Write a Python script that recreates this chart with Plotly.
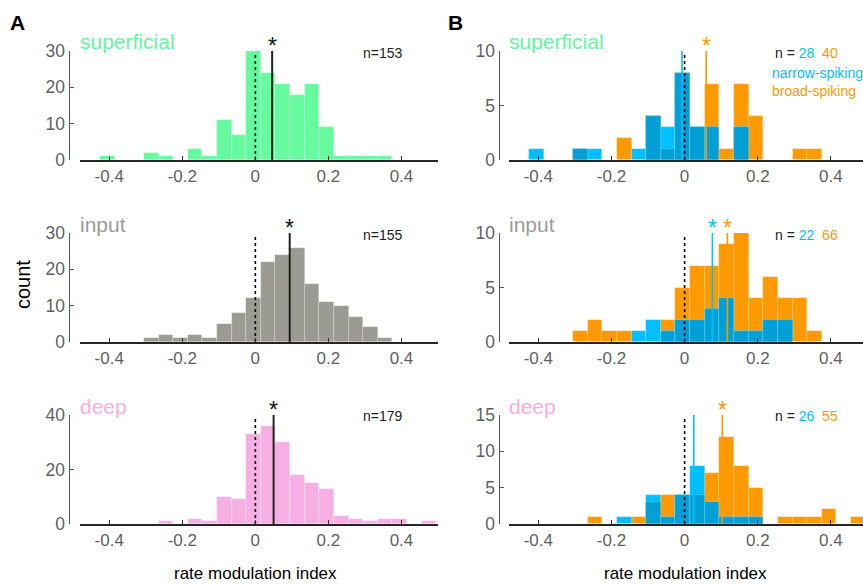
import plotly.graph_objects as go

W, H = 863, 584

bin_centers = [-0.405, -0.365, -0.325, -0.285, -0.245, -0.205, -0.165, -0.125, -0.085, -0.045,
               -0.005, 0.035, 0.075, 0.115, 0.155, 0.195, 0.235, 0.275, 0.315, 0.355,
               0.395, 0.435, 0.475]
bin_width = 0.04

# Panel A counts
A_superficial = [1, 0, 0, 2, 1, 0, 3, 1, 11, 7, 30, 24, 21, 18, 21, 9, 1, 1, 1, 1, 0, 0, 0]
A_input = [0, 0, 0, 1, 2, 1, 2, 1, 5, 8, 12, 22, 24, 26, 16, 11, 10, 7, 4, 1, 0, 0, 0]
A_deep = [0, 0, 0, 0, 1, 0, 2, 1, 10, 9, 33, 36, 30, 18, 15, 13, 3, 2, 1, 2, 2, 0, 1]

# Panel B counts (narrow-spiking / broad-spiking)
B_sup_narrow = [1, 0, 0, 1, 1, 0, 0, 1, 4, 3, 8, 3, 3, 0, 3, 0, 0, 0, 0, 0, 0, 0, 0]
B_sup_broad = [0, 0, 0, 1, 0, 0, 2, 0, 4, 1, 8, 3, 7, 1, 7, 4, 0, 0, 1, 1, 0, 0, 0]
B_inp_narrow = [0, 0, 0, 0, 0, 0, 0, 1, 2, 1, 2, 2, 3, 4, 1, 1, 2, 2, 0, 0, 0, 0, 0]
B_inp_broad = [0, 0, 0, 1, 2, 1, 1, 0, 0, 2, 5, 7, 7, 9, 10, 4, 6, 4, 4, 1, 0, 0, 0]
B_deep_narrow = [0, 0, 0, 0, 0, 0, 1, 0, 4, 1, 4, 8, 3, 1, 1, 1, 0, 0, 0, 0, 0, 0, 0]
B_deep_broad = [0, 0, 0, 0, 1, 0, 0, 1, 3, 4, 4, 4, 7, 12, 8, 5, 0, 1, 1, 1, 2, 0, 1]

# means
A_means = [0.046, 0.094, 0.050]
B_means_narrow = [-0.007, 0.076, 0.025]
B_means_broad = [0.059, 0.117, 0.103]
B_star_narrow = [False, True, False]
B_star_broad = [True, True, True]

layer_names = ["superficial", "input", "deep"]
layer_colors = ["#66FA9F", "#9B9B93", "#F5AFE3"]
layer_text_colors = ["#66F59E", "#9B9B9B", "#F7AEE2"]
A_n = [153, 155, 179]
B_n_narrow = [28, 22, 26]
B_n_broad = [40, 66, 55]

A_yticks = [[0, 10, 20, 30], [0, 10, 20, 30], [0, 20, 40]]
B_yticks = [[0, 5, 10], [0, 5, 10], [0, 5, 10, 15]]
x_ticks = [-0.4, -0.2, 0, 0.2, 0.4]
x_ticklabels = ["-0.4", "-0.2", "0", "0.2", "0.4"]

BLUE = "#00BFFF"
ORANGE = "#FF9900"
OVERLAP = "#00A0D6"
FONT = "Liberation Sans, Arial, sans-serif"


def px(xp):
    return xp / W


def py(yp):
    return 1 - yp / H


row_top = [51, 233, 415]
row_bot = [160, 342, 524]

fig = go.Figure()
annotations = []

panels = [
    dict(col=0, xdom=[px(80), px(438)], xr=[-0.48, 0.5], ypos=px(68.5), x0px=255.7),
    dict(col=1, xdom=[px(509), 1.0], xr=[-0.48, (W - 685) / 365.0], ypos=px(498.5), x0px=685),
]

axis_i = 0
for p in panels:
    for r in range(3):
        axis_i += 1
        xa = "x" if axis_i == 1 else f"x{axis_i}"
        ya = "y" if axis_i == 1 else f"y{axis_i}"
        xkey = "xaxis" if axis_i == 1 else f"xaxis{axis_i}"
        ykey = "yaxis" if axis_i == 1 else f"yaxis{axis_i}"
        yt = A_yticks[r] if p["col"] == 0 else B_yticks[r]
        top = yt[-1]

        if p["col"] == 0:
            counts = [A_superficial, A_input, A_deep][r]
            fig.add_trace(go.Bar(x=bin_centers, y=counts, width=bin_width,
                                 marker=dict(color=layer_colors[r],
                                             line=dict(color="rgba(255,255,255,0.35)", width=0.6)),
                                 xaxis=xa, yaxis=ya, showlegend=False))
            means = [(A_means[r], "#222222", 2)]
        else:
            nar = [B_sup_narrow, B_inp_narrow, B_deep_narrow][r]
            bro = [B_sup_broad, B_inp_broad, B_deep_broad][r]
            ovl = [min(a, b) for a, b in zip(nar, bro)]
            for vals, col in [(bro, ORANGE), (nar, BLUE), (ovl, OVERLAP)]:
                fig.add_trace(go.Bar(x=bin_centers, y=vals, width=bin_width,
                                     marker=dict(color=col,
                                                 line=dict(color="rgba(255,255,255,0.3)", width=0.6)),
                                     xaxis=xa, yaxis=ya, showlegend=False))
            means = [(B_means_narrow[r], BLUE, 1.6), (B_means_broad[r], ORANGE, 1.6)]

        # dotted zero reference
        fig.add_trace(go.Scatter(x=[0, 0], y=[0, top * 0.965], mode="lines",
                                 line=dict(color="black", width=1.6, dash="dot"),
                                 xaxis=xa, yaxis=ya, showlegend=False, hoverinfo="skip"))
        for j, (m, col, lw) in enumerate(means):
            fig.add_trace(go.Scatter(x=[m, m], y=[0, top], mode="lines",
                                     line=dict(color=col, width=lw),
                                     xaxis=xa, yaxis=ya, showlegend=False, hoverinfo="skip"))
            if p["col"] == 0:
                star = True
            else:
                star = B_star_narrow[r] if j == 0 else B_star_broad[r]
            if star:
                annotations.append(dict(x=m, y=top, xref=xa, yref=ya, text="*",
                                        showarrow=False, yanchor="bottom", yshift=-10,
                                        font=dict(size=23, color="#111111" if p["col"] == 0 else col,
                                                  family=FONT)))

        fig.update_layout(**{
            xkey: dict(domain=p["xdom"], range=p["xr"], anchor=ya,
                       tickvals=x_ticks, ticktext=x_ticklabels,
                       ticks="inside", ticklen=4, tickcolor="#333333", tickwidth=1,
                       showline=True, linecolor="#262626", linewidth=1.6,
                       showgrid=False, zeroline=False,
                       tickfont=dict(size=17, color="#5F5F5F", family=FONT)),
            ykey: dict(domain=[py(row_bot[r]), py(row_top[r])], range=[0, top],
                       anchor="free", position=p["ypos"],
                       tickvals=yt, ticks="inside", ticklen=4, tickcolor="#555555",
                       showline=True, linecolor="#555555", linewidth=1.2,
                       showgrid=False, zeroline=False,
                       tickfont=dict(size=17.5, color="#5F5F5F", family=FONT)),
        })

        # layer label
        lab_y = [42, 225, 406][r]
        lab_x = 78 if p["col"] == 0 else 507
        annotations.append(dict(x=px(lab_x), y=py(lab_y), xref="paper", yref="paper",
                                text=layer_names[r], showarrow=False, xanchor="left",
                                yanchor="middle",
                                font=dict(size=21, color=layer_text_colors[r], family=FONT)))
        n_y = [53, 235, 416][r]
        if p["col"] == 0:
            annotations.append(dict(x=px(383), y=py(n_y), xref="paper", yref="paper",
                                    text=f"n={A_n[r]}", showarrow=False,
                                    xanchor="center", yanchor="middle",
                                    font=dict(size=14, color="#222222", family=FONT)))
        else:
            annotations.append(dict(x=px(773), y=py(n_y), xref="paper", yref="paper",
                                    text=(f"n = <span style='color:{BLUE}'>{B_n_narrow[r]}</span>"
                                          f"&nbsp;&nbsp;<span style='color:{ORANGE}'>{B_n_broad[r]}</span>"),
                                    showarrow=False, xanchor="left", yanchor="middle",
                                    font=dict(size=14, color="#222222", family=FONT)))
            if r == 0:
                annotations.append(dict(x=px(770), y=py(73), xref="paper", yref="paper",
                                        text="narrow-spiking", showarrow=False,
                                        xanchor="left", yanchor="middle",
                                        font=dict(size=14, color=BLUE, family=FONT)))
                annotations.append(dict(x=px(770), y=py(91), xref="paper", yref="paper",
                                        text="broad-spiking", showarrow=False,
                                        xanchor="left", yanchor="middle",
                                        font=dict(size=14, color=ORANGE, family=FONT)))

# panel letters
annotations.append(dict(x=px(8), y=py(22), xref="paper", yref="paper", text="<b>A</b>",
                        showarrow=False, xanchor="left", yanchor="middle",
                        font=dict(size=21, color="black", family=FONT)))
annotations.append(dict(x=px(446), y=py(22), xref="paper", yref="paper", text="<b>B</b>",
                        showarrow=False, xanchor="left", yanchor="middle",
                        font=dict(size=21, color="black", family=FONT)))
# axis titles
annotations.append(dict(x=px(23), y=py(285), xref="paper", yref="paper", text="count",
                        showarrow=False, textangle=-90, xanchor="center", yanchor="middle",
                        font=dict(size=20, color="black", family=FONT)))
for cx in [255.7, 685]:
    annotations.append(dict(x=px(cx), y=py(573), xref="paper", yref="paper",
                            text="rate modulation index", showarrow=False,
                            xanchor="center", yanchor="middle",
                            font=dict(size=17, color="black", family=FONT)))

fig.update_layout(width=W, height=H, autosize=False,
                  margin=dict(l=0, r=0, t=0, b=0, pad=0, autoexpand=False),
                  paper_bgcolor="white", plot_bgcolor="white",
                  barmode="overlay", bargap=0,
                  annotations=annotations, showlegend=False,
                  font=dict(family=FONT))

fig.write_html("out.html",
               config={"displayModeBar": False},
               post_script="document.body.style.margin='0px';document.body.style.overflow='hidden';")
